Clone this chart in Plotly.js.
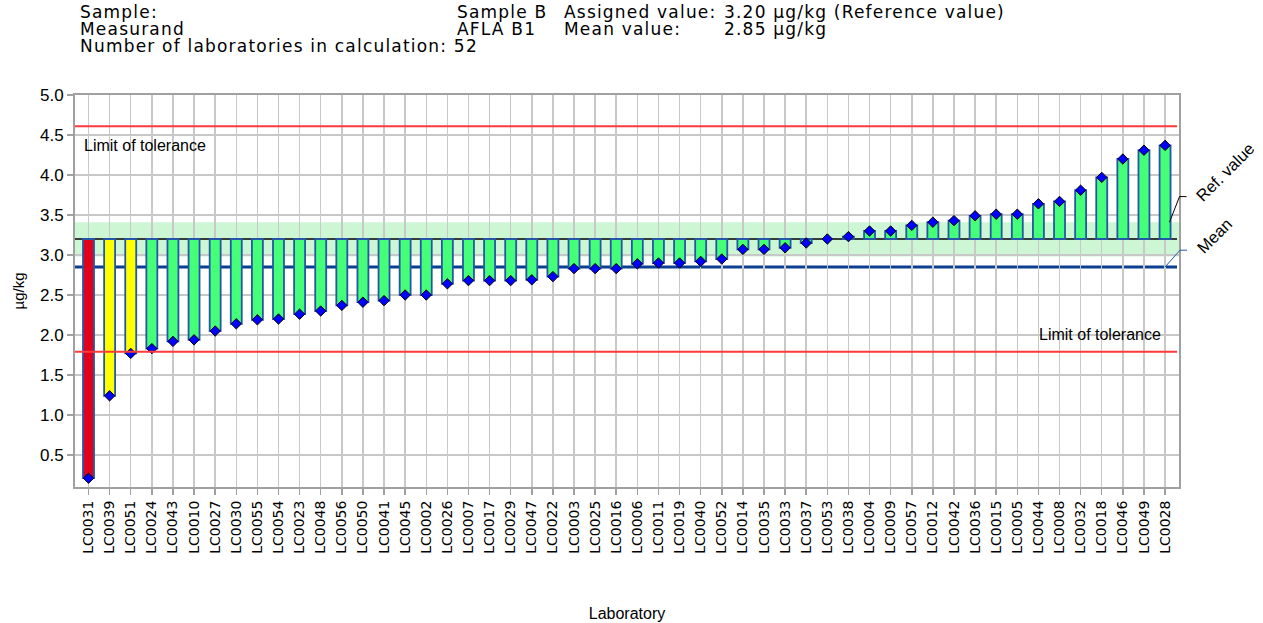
<!DOCTYPE html>
<html>
<head>
<meta charset="utf-8">
<script src="https://cdn.plot.ly/plotly-3.0.1.min.js"></script>
<style>html,body{margin:0;padding:0;background:#fff;}#chart{width:1263px;height:623px;}</style>
</head>
<body>
<div id="chart"></div>
<script>
const labs = ["LC0031","LC0039","LC0051","LC0024","LC0043","LC0010","LC0027","LC0030","LC0055","LC0054","LC0023","LC0048","LC0056","LC0050","LC0041","LC0045","LC0002","LC0026","LC0007","LC0017","LC0029","LC0047","LC0022","LC0003","LC0025","LC0016","LC0006","LC0011","LC0019","LC0040","LC0052","LC0014","LC0035","LC0033","LC0037","LC0053","LC0038","LC0004","LC0009","LC0057","LC0012","LC0042","LC0036","LC0015","LC0005","LC0044","LC0008","LC0032","LC0018","LC0046","LC0049","LC0028"];
const values = [0.21,1.24,1.77,1.83,1.92,1.94,2.05,2.14,2.19,2.20,2.26,2.30,2.37,2.41,2.43,2.50,2.50,2.64,2.68,2.68,2.68,2.69,2.73,2.83,2.83,2.83,2.89,2.90,2.90,2.92,2.95,3.07,3.07,3.09,3.15,3.20,3.23,3.30,3.30,3.37,3.41,3.43,3.49,3.51,3.51,3.64,3.67,3.81,3.97,4.20,4.31,4.37];
const status = ["red","yellow","yellow"].concat(Array(49).fill("green"));
const assigned = 3.20;
const meanValue = 2.85;
const tolUpper = 4.61;
const tolLower = 1.79;
const bandLow = 2.98;
const bandHigh = 3.41;
const yTicks = [0.5,1.0,1.5,2.0,2.5,3.0,3.5,4.0,4.5,5.0];

const colorMap = {red:"#e2001a", yellow:"#ffff00", green:"#46ff78"};

const W = 1263, H = 623;
const M = {l:75, r:84, t:95, b:136};
const PW = W - M.l - M.r, PH = H - M.t - M.b;
const px = x => (x - M.l) / PW;
const py = y => 1 - (y - M.t) / PH;

const bars = {
  type: "bar",
  x: labs,
  y: values.map(v => v - assigned),
  base: Array(values.length).fill(assigned),
  width: 0.52,
  marker: {color: status.map(s => colorMap[s]), line: {color: "#2358a8", width: 1.8}},
  hoverinfo: "skip",
  showlegend: false
};
const pts = {
  type: "scatter",
  mode: "markers",
  x: labs,
  y: values,
  marker: {symbol: "diamond", color: "#0000ff", size: 8, line: {color: "#000", width: 1}},
  hoverinfo: "skip",
  showlegend: false,
  cliponaxis: false
};

const hdrFont = {family: "DejaVu Sans", size: 17, color: "#000"};
function hdr(text, x, y) {
  return {xref: "paper", yref: "paper", x: px(x), y: py(y), text: text, showarrow: false,
          xanchor: "left", yanchor: "middle", font: hdrFont};
}

const lineEnd = px(1177);
const shapes = [
  {type:"rect", xref:"paper", yref:"y", x0:0, x1:1, y0:bandLow, y1:bandHigh, fillcolor:"#cdf6d5", line:{width:0}, layer:"below"},
  {type:"line", xref:"paper", yref:"y", x0:0, x1:lineEnd, y0:tolUpper, y1:tolUpper, line:{color:"#ff3a3a", width:2}},
  {type:"line", xref:"paper", yref:"y", x0:0, x1:lineEnd, y0:tolLower, y1:tolLower, line:{color:"#ff3a3a", width:2}},
  {type:"line", xref:"paper", yref:"y", x0:0, x1:lineEnd, y0:assigned, y1:assigned, line:{color:"#000", width:1.5}, layer:"below"},
  {type:"line", xref:"paper", yref:"y", x0:0, x1:lineEnd, y0:meanValue, y1:meanValue, line:{color:"#0b3f8f", width:3}, layer:"below"},
  {type:"line", xref:"paper", yref:"y", x0:px(1169.5), x1:px(1179.5), y0:bandHigh, y1:3.73, line:{color:"#000", width:1}},
  {type:"line", xref:"paper", yref:"y", x0:px(1179.5), x1:px(1186.5), y0:3.73, y1:3.73, line:{color:"#000", width:1}},
  {type:"line", xref:"paper", yref:"y", x0:px(1165), x1:px(1180), y0:meanValue, y1:3.06, line:{color:"#2358a8", width:1}},
  {type:"line", xref:"paper", yref:"y", x0:px(1180), x1:px(1187), y0:3.06, y1:3.06, line:{color:"#2358a8", width:1}}
];

const annFont = {family: "Liberation Sans, Arial", size: 16, color: "#000"};
const rotFont = {family: "Liberation Sans, Arial", size: 16.5, color: "#000"};
const annotations = [
  hdr("Sample:", 78, 12),
  hdr("Measurand", 78, 29),
  hdr("Number of laboratories in calculation: 52", 78, 46),
  hdr("Sample B", 455, 12),
  hdr("AFLA B1", 455, 29),
  hdr("Assigned value:", 562, 12),
  hdr("Mean value:", 562, 29),
  hdr("3.20 µg/kg (Reference value)", 722, 12),
  hdr("2.85 µg/kg", 722, 29),
  {xref:"paper", yref:"paper", x:px(82), y:py(145), text:"Limit of tolerance", showarrow:false, xanchor:"left", yanchor:"middle", font:annFont},
  {xref:"paper", yref:"paper", x:px(1163), y:py(334), text:"Limit of tolerance", showarrow:false, xanchor:"right", yanchor:"middle", font:annFont},
  {xref:"paper", yref:"paper", x:px(1225), y:py(172), text:"Ref. value", showarrow:false, textangle:-45, xanchor:"center", yanchor:"middle", font:rotFont},
  {xref:"paper", yref:"paper", x:px(1214), y:py(236), text:"Mean", showarrow:false, textangle:-45, xanchor:"center", yanchor:"middle", font:rotFont}
];

const layout = {
  width: W, height: H,
  margin: M,
  paper_bgcolor: "#fff", plot_bgcolor: "#fff",
  showlegend: false,
  xaxis: {
    type: "category",
    range: [-0.64, 51.66],
    tickmode: "array", tickvals: labs, ticktext: labs,
    tickangle: -90,
    tickfont: {family: "DejaVu Sans", size: 14, color: "#000"},
    ticks: "outside", ticklen: 6, tickcolor: "#a0a0a0", tickwidth: 1.5,
    showgrid: true, gridcolor: "#c8c8c8", gridwidth: 1.5,
    showline: true, linecolor: "#a0a0a0", linewidth: 2, mirror: true,
    zeroline: false, fixedrange: true,
    title: {text: "Laboratory", font: {family: "Liberation Sans, Arial", size: 16, color: "#000"}, standoff: 55}
  },
  yaxis: {
    range: [0.1, 5.0],
    tickmode: "array", tickvals: yTicks, ticktext: yTicks.map(v => v.toFixed(1)),
    tickfont: {family: "Liberation Sans, Arial", size: 17, color: "#000"},
    ticks: "outside", ticklen: 6, tickcolor: "#a0a0a0", tickwidth: 1.5,
    showgrid: true, gridcolor: "#c8c8c8", gridwidth: 1.5,
    showline: true, linecolor: "#a0a0a0", linewidth: 2, mirror: true,
    zeroline: false, fixedrange: true,
    title: {text: "µg/kg", font: {family: "Liberation Sans, Arial", size: 15, color: "#000"}, standoff: 12}
  },
  shapes: shapes,
  annotations: annotations
};

Plotly.newPlot("chart", [bars, pts], layout, {displayModeBar: false, staticPlot: true}).then(function () {
  const nodes = document.querySelectorAll("#chart .annotation");
  for (let i = 0; i < 9 && i < nodes.length; i++) {
    const t = nodes[i].querySelector("text");
    if (!t) continue;
    const b = t.getBBox();
    t.setAttribute("text-anchor", "start");
    t.setAttribute("x", b.x);
    t.style.letterSpacing = "1.2px";
  }
});
</script>
</body>
</html>
